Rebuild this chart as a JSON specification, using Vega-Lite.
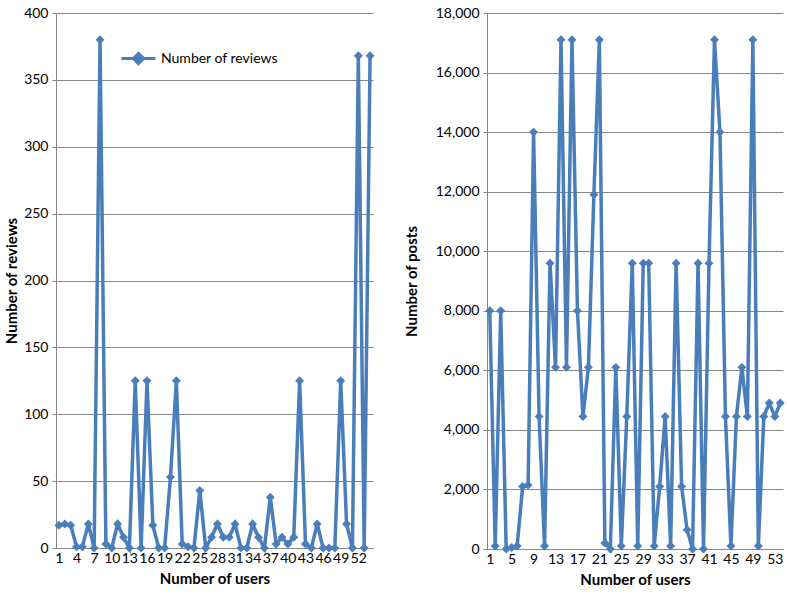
{
  "$schema": "https://vega.github.io/schema/vega-lite/v6.json",
  "padding": {"left": 4, "top": 6, "right": 5, "bottom": 0},
  "autosize": {"type": "pad"},
  "spacing": 26,
  "config": {
    "view": {"stroke": null},
    "font": "Lato",
    "axis": {
      "labelFont": "Lato", "labelFontSize": 14, "labelColor": "#000000",
      "titleFont": "Lato", "titleFontSize": 15, "titleFontWeight": "bold", "titleColor": "#000000",
      "domainColor": "#868686", "gridColor": "#868686", "gridWidth": 1, "tickColor": "#868686"
    }
  },
  "hconcat": [
    {
      "width": 317,
      "height": 535,
      "data": {"values": [
        {"user": 1, "reviews": 17}, {"user": 2, "reviews": 18}, {"user": 3, "reviews": 17}, {"user": 4, "reviews": 1},
        {"user": 5, "reviews": 1}, {"user": 6, "reviews": 18}, {"user": 7, "reviews": 0}, {"user": 8, "reviews": 380},
        {"user": 9, "reviews": 3}, {"user": 10, "reviews": 0}, {"user": 11, "reviews": 18}, {"user": 12, "reviews": 8},
        {"user": 13, "reviews": 0}, {"user": 14, "reviews": 125}, {"user": 15, "reviews": 0}, {"user": 16, "reviews": 125},
        {"user": 17, "reviews": 17}, {"user": 18, "reviews": 0}, {"user": 19, "reviews": 0}, {"user": 20, "reviews": 53},
        {"user": 21, "reviews": 125}, {"user": 22, "reviews": 3}, {"user": 23, "reviews": 1}, {"user": 24, "reviews": 0},
        {"user": 25, "reviews": 43}, {"user": 26, "reviews": 0}, {"user": 27, "reviews": 8}, {"user": 28, "reviews": 18},
        {"user": 29, "reviews": 8}, {"user": 30, "reviews": 8}, {"user": 31, "reviews": 18}, {"user": 32, "reviews": 0},
        {"user": 33, "reviews": 0}, {"user": 34, "reviews": 18}, {"user": 35, "reviews": 8}, {"user": 36, "reviews": 0},
        {"user": 37, "reviews": 38}, {"user": 38, "reviews": 3}, {"user": 39, "reviews": 8}, {"user": 40, "reviews": 3},
        {"user": 41, "reviews": 8}, {"user": 42, "reviews": 125}, {"user": 43, "reviews": 3}, {"user": 44, "reviews": 0},
        {"user": 45, "reviews": 18}, {"user": 46, "reviews": 0}, {"user": 47, "reviews": 0}, {"user": 48, "reviews": 0},
        {"user": 49, "reviews": 125}, {"user": 50, "reviews": 18}, {"user": 51, "reviews": 0}, {"user": 52, "reviews": 368},
        {"user": 53, "reviews": 0}, {"user": 54, "reviews": 368}
      ]},
      "encoding": {
        "x": {"field": "user", "type": "ordinal", "scale": {"type": "point", "padding": 0.5},
              "axis": {"title": "Number of users", "values": [1,4,7,10,13,16,19,22,25,28,31,34,37,40,43,46,49,52],
                       "labelAngle": 0, "ticks": false, "labelPadding": 3, "titlePadding": 6, "labelOverlap": false}},
        "y": {"field": "reviews", "type": "quantitative", "scale": {"domain": [0, 400], "nice": false},
              "axis": {"title": "Number of reviews", "values": [0,50,100,150,200,250,300,350,400],
                       "tickSize": 4, "labelPadding": 4, "titlePadding": 4}},
        "color": {"datum": "Number of reviews", "type": "nominal",
                  "scale": {"range": ["#4A7EBB"]},
                  "legend": {"title": null, "orient": "none", "legendX": 64, "legendY": 27,
                             "symbolType": "M-1,0H1M0,-0.3L0.3,0L0,0.3L-0.3,0Z", "symbolSize": 1156,
                             "symbolStrokeWidth": 3, "symbolFillColor": "#4A7EBB", "symbolStrokeColor": "#4A7EBB",
                             "labelFont": "Lato", "labelFontSize": 14, "labelColor": "#000000", "labelOffset": 4}}
      },
      "layer": [
        {"mark": {"type": "line", "strokeWidth": 3.5}},
        {"mark": {"type": "point", "shape": "diamond", "filled": true, "size": 80, "opacity": 1}}
      ]
    },
    {
      "width": 296,
      "height": 536,
      "data": {"values": [
        {"user": 1, "posts": 8000}, {"user": 2, "posts": 100}, {"user": 3, "posts": 8000}, {"user": 4, "posts": 0},
        {"user": 5, "posts": 50}, {"user": 6, "posts": 100}, {"user": 7, "posts": 2100}, {"user": 8, "posts": 2150},
        {"user": 9, "posts": 14000}, {"user": 10, "posts": 4450}, {"user": 11, "posts": 100}, {"user": 12, "posts": 9600},
        {"user": 13, "posts": 6100}, {"user": 14, "posts": 17100}, {"user": 15, "posts": 6100}, {"user": 16, "posts": 17100},
        {"user": 17, "posts": 8000}, {"user": 18, "posts": 4450}, {"user": 19, "posts": 6100}, {"user": 20, "posts": 11900},
        {"user": 21, "posts": 17100}, {"user": 22, "posts": 200}, {"user": 23, "posts": 0}, {"user": 24, "posts": 6100},
        {"user": 25, "posts": 100}, {"user": 26, "posts": 4450}, {"user": 27, "posts": 9600}, {"user": 28, "posts": 100},
        {"user": 29, "posts": 9600}, {"user": 30, "posts": 9600}, {"user": 31, "posts": 100}, {"user": 32, "posts": 2100},
        {"user": 33, "posts": 4450}, {"user": 34, "posts": 100}, {"user": 35, "posts": 9600}, {"user": 36, "posts": 2100},
        {"user": 37, "posts": 650}, {"user": 38, "posts": 0}, {"user": 39, "posts": 9600}, {"user": 40, "posts": 0},
        {"user": 41, "posts": 9600}, {"user": 42, "posts": 17100}, {"user": 43, "posts": 14000}, {"user": 44, "posts": 4450},
        {"user": 45, "posts": 100}, {"user": 46, "posts": 4450}, {"user": 47, "posts": 6100}, {"user": 48, "posts": 4450},
        {"user": 49, "posts": 17100}, {"user": 50, "posts": 100}, {"user": 51, "posts": 4450}, {"user": 52, "posts": 4900},
        {"user": 53, "posts": 4450}, {"user": 54, "posts": 4900}
      ]},
      "encoding": {
        "x": {"field": "user", "type": "ordinal", "scale": {"type": "point", "padding": 0.5},
              "axis": {"title": "Number of users", "values": [1,5,9,13,17,21,25,29,33,37,41,45,49,53],
                       "labelAngle": 0, "ticks": false, "labelPadding": 3, "titlePadding": 6, "labelOverlap": false}},
        "y": {"field": "posts", "type": "quantitative", "scale": {"domain": [0, 18000], "nice": false},
              "axis": {"title": "Number of posts", "format": ",.0f", "values": [0,2000,4000,6000,8000,10000,12000,14000,16000,18000],
                       "tickSize": 4, "labelPadding": 4, "titlePadding": 16}}
      },
      "layer": [
        {"mark": {"type": "line", "strokeWidth": 3.5, "color": "#4A7EBB"}},
        {"mark": {"type": "point", "shape": "diamond", "filled": true, "size": 80, "opacity": 1, "color": "#4A7EBB"}}
      ]
    }
  ]
}
